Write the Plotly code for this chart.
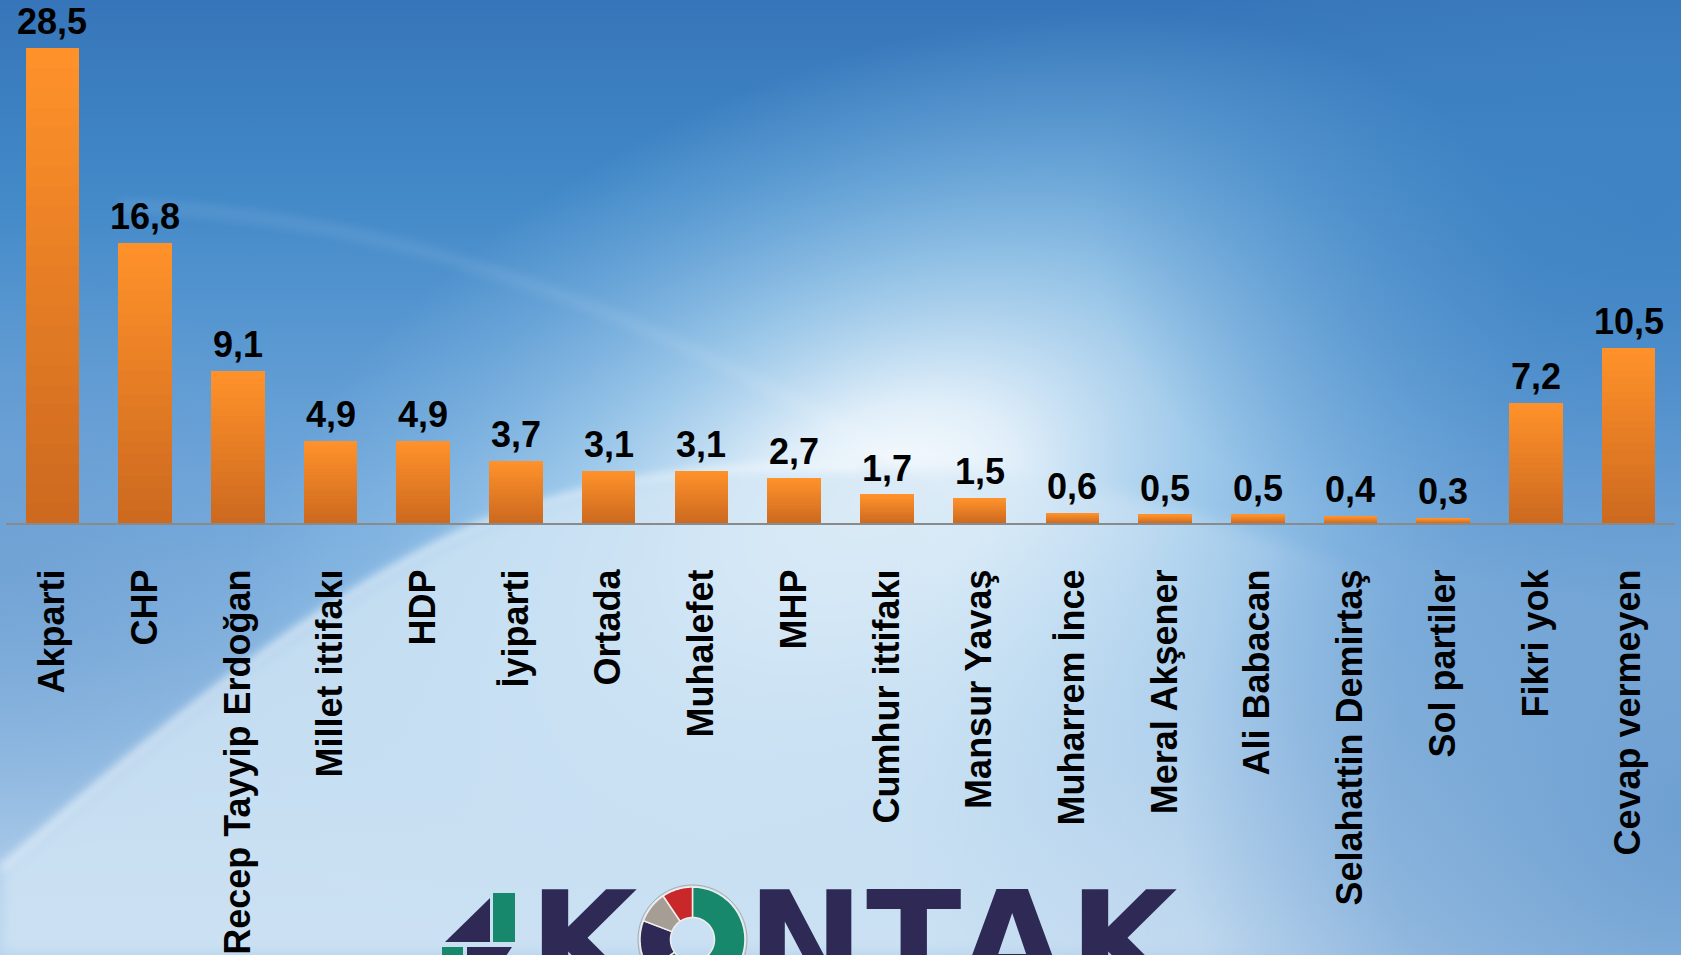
import base64
import numpy as np
import plotly.graph_objects as go

# ---------------- data ----------------
categories = ["Akparti", "CHP", "Recep Tayyip Erdoğan", "Millet ittifakı", "HDP",
              "İyiparti", "Ortada", "Muhalefet", "MHP", "Cumhur ittifakı",
              "Mansur Yavaş", "Muharrem İnce", "Meral Akşener", "Ali Babacan",
              "Selahattin Demirtaş", "Sol partiler", "Fikri yok", "Cevap vermeyen"]
values = [28.5, 16.8, 9.1, 4.9, 4.9, 3.7, 3.1, 3.1, 2.7, 1.7,
          1.5, 0.6, 0.5, 0.5, 0.4, 0.3, 7.2, 10.5]
value_labels = [f"{v:.1f}".replace(".", ",") for v in values]

logo_letters = ["K", "N", "T", "A", "K"]
logo_ring_shares = [235, 56, 35, 34]          # degrees of the logo "O" ring
logo_ring_colors = ["#17886c", "#2e2a55", "#a69e95", "#c9282b"]

# ---------------- geometry / style ----------------
W, H = 1681, 955
ML, MR, MT, MB = 6, 6, 0, 432
PW, PH = W - ML - MR, H - MT - MB
FONT = "Liberation Sans, Arial, sans-serif"
NAVY, GREEN = "#2e2a55", "#17886c"
letter_centers_px = [585, 805, 914, 1012, 1125]
LOGO_SIZE = 140


def px(x):
    return (x - ML) / PW


def py(y):
    return (MT + PH - y) / PH


# ---------------- background (svg image) ----------------
svg = f"""<svg xmlns='http://www.w3.org/2000/svg' width='{W}' height='{H}' viewBox='0 0 {W} {H}' preserveAspectRatio='none'>
<defs>
<linearGradient id='base' x1='0' y1='0' x2='0' y2='1'>
<stop offset='0' stop-color='#3675b9'/>
<stop offset='0.2' stop-color='#4289c8'/>
<stop offset='0.5' stop-color='#6fa6da'/>
<stop offset='1' stop-color='#b4d0eb'/>
</linearGradient>
<radialGradient id='glow' gradientUnits='userSpaceOnUse' cx='0' cy='0' r='1' gradientTransform='translate(880 500) rotate(-25) scale(700 430)'>
<stop offset='0' stop-color='#ffffff' stop-opacity='1'/>
<stop offset='0.2' stop-color='#eef7fd' stop-opacity='0.9'/>
<stop offset='0.5' stop-color='#bde0f5' stop-opacity='0.6'/>
<stop offset='0.8' stop-color='#9ccbed' stop-opacity='0.25'/>
<stop offset='1' stop-color='#9ccbed' stop-opacity='0'/>
</radialGradient>
<radialGradient id='br' gradientUnits='userSpaceOnUse' cx='0' cy='0' r='1' gradientTransform='translate(1700 820) scale(520 480)'>
<stop offset='0' stop-color='#6a9dd0' stop-opacity='0.95'/>
<stop offset='0.6' stop-color='#6a9dd0' stop-opacity='0.5'/>
<stop offset='1' stop-color='#6a9dd0' stop-opacity='0'/>
</radialGradient>
<radialGradient id='tr' gradientUnits='userSpaceOnUse' cx='0' cy='0' r='1' gradientTransform='translate(1650 220) scale(560 380)'>
<stop offset='0' stop-color='#3f82c3' stop-opacity='0.85'/>
<stop offset='1' stop-color='#3f82c3' stop-opacity='0'/>
</radialGradient>
<radialGradient id='lf' gradientUnits='userSpaceOnUse' cx='0' cy='0' r='1' gradientTransform='translate(0 560) scale(330 300)'>
<stop offset='0' stop-color='#6a9bcf' stop-opacity='0.6'/>
<stop offset='1' stop-color='#6a9bcf' stop-opacity='0'/>
</radialGradient>
<linearGradient id='lowfade' gradientUnits='userSpaceOnUse' x1='900' y1='0' x2='1400' y2='0'>
<stop offset='0' stop-color='#d2e6f5' stop-opacity='1'/>
<stop offset='0.5' stop-color='#d2e6f5' stop-opacity='0.6'/>
<stop offset='1' stop-color='#d2e6f5' stop-opacity='0'/>
</linearGradient>
<filter id='b1' x='-20%' y='-20%' width='140%' height='140%'><feGaussianBlur stdDeviation='22'/></filter>
<filter id='b3' x='-20%' y='-20%' width='140%' height='140%'><feGaussianBlur stdDeviation='8'/></filter>
<filter id='b2' x='-20%' y='-20%' width='140%' height='140%'><feGaussianBlur stdDeviation='4'/></filter>
<clipPath id='lowclip'><path d='M0,955 L0,870 C170,720 330,590 480,525 C620,470 800,460 950,470 C1150,480 1350,560 1681,700 L1681,955 Z'/></clipPath>
</defs>
<rect width='{W}' height='{H}' fill='url(#base)'/>
<rect width='{W}' height='{H}' fill='url(#glow)'/>
<rect width='{W}' height='{H}' fill='url(#lf)'/>
<g filter='url(#b3)'><g clip-path='url(#lowclip)' opacity='0.8'>
<rect x='0' y='440' width='{W}' height='520' fill='url(#lowfade)'/>
</g></g>
<rect width='{W}' height='{H}' fill='url(#br)'/>
<rect width='{W}' height='{H}' fill='url(#tr)'/>
<path d='M0,870 C170,720 330,590 480,525 C620,470 760,462 860,468' stroke='#ffffff' stroke-width='6' fill='none' opacity='0.55' filter='url(#b2)'/>
<path d='M120,205 C420,215 700,330 1000,520' stroke='#ffffff' stroke-width='14' fill='none' opacity='0.07' filter='url(#b2)'/>
</svg>"""
bg_uri = "data:image/svg+xml;base64," + base64.b64encode(svg.encode("utf-8")).decode("ascii")

# ---------------- bars (vertical orange gradient via stacked slices) ----------------
N_SLICES = 24
c_bottom = np.array([0xCC, 0x69, 0x1F])
c_top = np.array([0xFF, 0x92, 0x2A])

fig = go.Figure()
vals = np.array(values)
for k in range(N_SLICES):
    t = (k + 0.5) / N_SLICES
    c = (c_bottom + (c_top - c_bottom) * t).round().astype(int)
    fig.add_trace(go.Bar(
        x=categories, y=vals / N_SLICES,
        marker=dict(color=f"rgb({c[0]},{c[1]},{c[2]})", line=dict(width=0)),
        width=0.578, hoverinfo="skip", showlegend=False,
    ))

# value labels
for cat, v, lab in zip(categories, values, value_labels):
    fig.add_annotation(x=cat, y=v, xref="x", yref="y", text=lab, showarrow=False,
                       yanchor="bottom", yshift=4,
                       font=dict(family=FONT, size=36, color="#000000", weight="bold"))

# ---------------- logo ----------------
shapes = []


def poly(points, color, line_color=None, lw=0):
    path = "M " + " L ".join(f"{px(x):.5f},{py(y):.5f}" for x, y in points) + " Z"
    return dict(type="path", xref="paper", yref="paper", path=path, fillcolor=color,
                line=dict(color=line_color or color, width=lw), layer="above")


shapes.append(poly([(445, 942), (490, 898), (490, 942)], NAVY))
shapes.append(poly([(493, 893), (515, 893), (515, 942), (493, 942)], GREEN))
shapes.append(poly([(442, 947), (463, 947), (463, 965), (442, 965)], GREEN))
shapes.append(poly([(467, 947), (512, 947), (500, 965), (467, 965)], NAVY))

cx, cy, ro, ri = 692.5, 939.5, 52.5, 22
ang = np.radians(np.linspace(0, 360, 120))
shapes.append(poly([(cx + (ro + 2) * np.sin(t), cy - (ro + 2) * np.cos(t)) for t in ang],
                   "rgba(0,0,0,0)", "#a9a9a9", 1))
start = 0.0
for share, col in zip(logo_ring_shares, logo_ring_colors):
    a = np.radians(np.linspace(start, start + share, 40))
    outer = [(cx + ro * np.sin(t), cy - ro * np.cos(t)) for t in a]
    inner = [(cx + ri * np.sin(t), cy - ri * np.cos(t)) for t in a[::-1]]
    shapes.append(poly(outer + inner, col, "#eeeeee", 1.5))
    start += share

for letter, xc in zip(logo_letters, letter_centers_px):
    fig.add_annotation(xref="paper", yref="paper", x=px(xc), y=py(889 - 0.199 * LOGO_SIZE - 1),
                       xanchor="center", yanchor="top", text=letter, showarrow=False,
                       font=dict(family="DejaVu Sans", size=LOGO_SIZE, color=NAVY, weight="bold"))

# ---------------- layout ----------------
fig.update_layout(
    width=W, height=H,
    margin=dict(l=ML, r=MR, t=MT, b=MB, autoexpand=False),
    barmode="stack", bargap=0.42,
    paper_bgcolor="#3a7bbd", plot_bgcolor="rgba(0,0,0,0)",
    showlegend=False,
    shapes=shapes,
    images=[dict(source=bg_uri, xref="paper", yref="paper",
                 x=-ML / PW, y=1 + MT / PH, sizex=W / PW, sizey=H / PH,
                 xanchor="left", yanchor="top", sizing="stretch", layer="below")],
    xaxis=dict(type="category", showline=True, linecolor="#8a8a8a", linewidth=2,
               showgrid=False, zeroline=False, ticks="", tickangle=-90,
               ticklabelstandoff=30, automargin=False,
               tickfont=dict(family=FONT, size=36, color="#000000", weight="bold")),
    yaxis=dict(range=[0, PH / 16.66], visible=False, showgrid=False, zeroline=False,
               fixedrange=True, automargin=False),
)

fig.write_html("out.html", config={"displayModeBar": False},
               post_script="document.body.style.margin='0';document.body.style.overflow='hidden';")
